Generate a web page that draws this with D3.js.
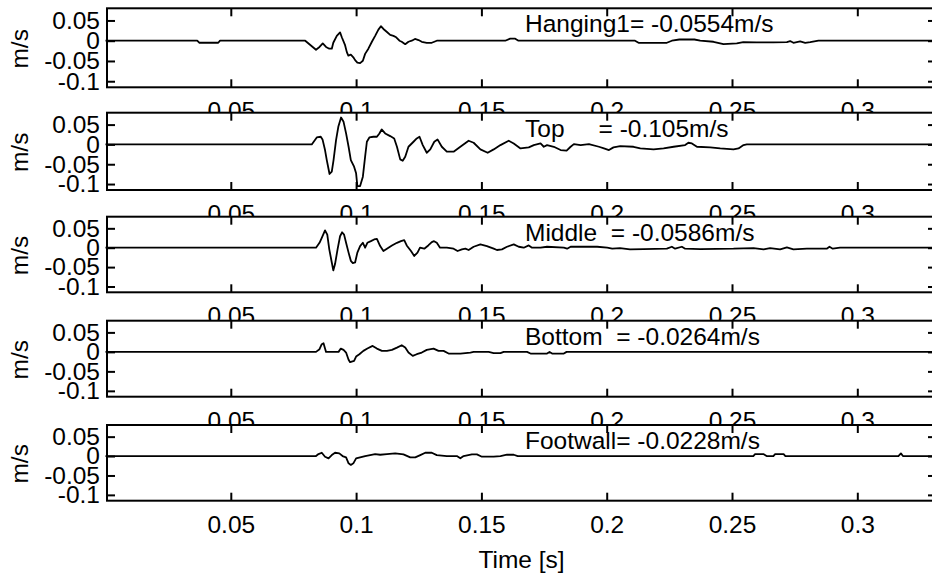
<!DOCTYPE html>
<html>
<head>
<meta charset="utf-8">
<script src="https://cdn.jsdelivr.net/npm/d3@7"></script>
<style>
  html, body { margin: 0; padding: 0; background: #fff; }
  svg { display: block; font-family: "Liberation Sans", Arial, sans-serif; }
</style>
</head>
<body>
<svg id="chart" width="932" height="573"></svg>
<script>
// ---- data -------------------------------------------------------------
const xTicks = [0.05, 0.1, 0.15, 0.2, 0.25, 0.3];
const yTicks = [0.05, 0, -0.05, -0.1];
const yTickLabels = ["0.05", "0", "-0.05", "-0.1"];
const sensorNames = ["Hanging1", "Top     ", "Middle  ", "Bottom  ", "Footwall"];

// particle velocity records, [time s, velocity m/s]
const hanging1 = [[0,0],[0.0366,0],[0.0374,-0.005],[0.045,-0.005],[0.0457,0],[0.0797,0],[0.0840,-0.0222],[0.0854,-0.0154],[0.0867,-0.0068],[0.0880,-0.0154],[0.0893,-0.0197],[0.0903,-0.0197],[0.0909,-0.0051],[0.0923,0.012],[0.0936,0.0205],[0.0943,0.0085],[0.0956,-0.0111],[0.0963,-0.0282],[0.0969,-0.0368],[0.0979,-0.0342],[0.0989,-0.041],[0.0996,-0.0479],[0.1005,-0.0539],[0.1016,-0.0554],[0.1027,-0.0496],[0.1036,-0.0325],[0.1049,-0.0197],[0.1063,-0.0026],[0.1076,0.012],[0.1089,0.0274],[0.1099,0.0359],[0.1109,0.029],[0.1122,0.0222],[0.1136,0.0145],[0.1149,0.012],[0.116,0.0085],[0.1173,0],[0.1182,-0.0026],[0.1196,-0.0085],[0.1209,-0.0026],[0.1222,0],[0.1235,0.0043],[0.1249,0.0017],[0.1262,-0.0026],[0.1282,-0.0051],[0.1302,-0.0051],[0.1322,0],[0.1595,0],[0.1615,0.0051],[0.1635,0.0051],[0.1648,0],[0.2113,0],[0.2127,-0.0051],[0.224,-0.0051],[0.226,0],[0.229,0.003],[0.235,0.003],[0.2373,0],[0.2426,-0.0026],[0.2466,-0.0085],[0.2519,-0.0068],[0.2545,-0.0034],[0.2599,-0.0043],[0.2665,-0.0043],[0.2719,-0.0034],[0.2732,-0.0008],[0.2745,-0.0051],[0.2772,-0.0017],[0.2792,-0.0051],[0.2812,-0.0034],[0.2845,0],[0.331,0]];

const top_ = [[0,0],[0.0823,0],[0.0843,0.0176],[0.0859,0.0193],[0.0866,0.0126],[0.0876,-0.0142],[0.0883,-0.0394],[0.0894,-0.0746],[0.0903,-0.0687],[0.0910,-0.0394],[0.0920,0.0109],[0.0929,0.0444],[0.0940,0.0679],[0.0950,0.057],[0.096,0.0277],[0.097,-0.0059],[0.0979,-0.0394],[0.0992,-0.0561],[0.1000,-0.0729],[0.1005,-0.105],[0.1016,-0.105],[0.1027,-0.0813],[0.1036,-0.031],[0.1043,0.0067],[0.1053,0.0176],[0.1069,0.0193],[0.1083,0.0193],[0.1093,0.0277],[0.1102,0.0377],[0.1116,0.0277],[0.1136,0.021],[0.1152,0.0151],[0.1163,-0.0059],[0.1176,-0.0377],[0.1186,-0.0411],[0.1196,-0.031],[0.1209,-0.0059],[0.1229,0.0067],[0.1242,0.0151],[0.1253,0.0193],[0.1266,-0.0017],[0.1282,-0.021],[0.1296,-0.0126],[0.1312,0.0067],[0.1325,0.0126],[0.1342,-0.0059],[0.1362,-0.0184],[0.1389,-0.0184],[0.1416,-0.0059],[0.1449,0.0092],[0.1469,0.0042],[0.1496,-0.0126],[0.1525,-0.021],[0.1549,-0.0126],[0.1576,-0.0017],[0.1609,0.0092],[0.1629,0.0025],[0.1656,-0.0101],[0.1689,-0.0075],[0.1709,-0.0017],[0.1736,0.0025],[0.1749,-0.0059],[0.1762,-0.0017],[0.1789,-0.0059],[0.1816,-0.0142],[0.184,-0.0159],[0.1856,-0.0059],[0.1869,0.0008],[0.1896,-0.0017],[0.1929,0.0008],[0.1969,-0.0059],[0.1989,-0.0101],[0.2009,-0.0142],[0.2027,-0.0075],[0.2054,-0.0042],[0.2107,-0.0059],[0.2134,-0.0101],[0.2187,-0.0126],[0.2227,-0.0101],[0.2267,-0.0059],[0.2313,-0.0017],[0.2326,0.0042],[0.234,0.0025],[0.236,-0.0059],[0.2413,-0.0075],[0.2453,-0.0101],[0.2506,-0.0126],[0.2526,-0.0101],[0.2546,-0.0017],[0.2559,0],[0.331,0]];

const middle = [[0,0],[0.0840,0],[0.0854,0.0127],[0.0863,0.0254],[0.0876,0.0448],[0.0885,0.0338],[0.0893,-0.0042],[0.0903,-0.0381],[0.0909,-0.0586],[0.0916,-0.0423],[0.0926,-0.0042],[0.0936,0.0296],[0.0944,0.0398],[0.0952,0.0338],[0.096,0.0127],[0.097,-0.0127],[0.0979,-0.0338],[0.0987,-0.0398],[0.0996,-0.0381],[0.1005,-0.0127],[0.1016,0.0042],[0.1027,0.0127],[0.1036,0],[0.1045,0.0127],[0.1059,0.0169],[0.1072,0.0212],[0.1083,0.0228],[0.1096,0.0042],[0.1109,-0.0085],[0.1123,-0.0025],[0.1143,0.0059],[0.1163,0.0127],[0.1179,0.0169],[0.1192,0.0195],[0.1202,0.0059],[0.1219,-0.0085],[0.1232,-0.0212],[0.1245,-0.0127],[0.1255,0],[0.1272,-0.0025],[0.1288,0.0059],[0.1302,0.0144],[0.1311,0.0169],[0.1322,0.0127],[0.1335,0],[0.1362,0],[0.1389,-0.0025],[0.1405,-0.0085],[0.1422,-0.0042],[0.1436,-0.0025],[0.1449,-0.0059],[0.1469,0.0025],[0.1496,0.0085],[0.1522,0.0042],[0.1549,-0.0025],[0.1562,-0.0059],[0.1582,-0.0042],[0.1602,0.0025],[0.1629,0.0085],[0.1649,0.0025],[0.1669,0],[0.1689,0.0059],[0.1702,0],[0.1736,0],[0.1762,0.0025],[0.1829,0],[0.1842,-0.0025],[0.1856,0.0025],[0.1962,0.0025],[0.2002,0],[0.2022,-0.0025],[0.2053,-0.0008],[0.2093,-0.0042],[0.2147,-0.0034],[0.2240,-0.0025],[0.226,0.0025],[0.2273,-0.0025],[0.23,0.0025],[0.2313,-0.0025],[0.2373,-0.0034],[0.2506,-0.0025],[0.2586,-0.0008],[0.2626,-0.0042],[0.2652,-0.0008],[0.2692,-0.0042],[0.2719,0.0008],[0.2745,-0.0042],[0.2799,-0.0025],[0.2878,-0.0025],[0.2889,0.0025],[0.2902,-0.0025],[0.2931,0],[0.331,0]];

const bottom = [[0,0],[0.0840,0],[0.0854,0.0068],[0.0863,0.0196],[0.087,0.0221],[0.0876,0.0085],[0.0880,0],[0.093,0],[0.0939,0.0085],[0.095,0.0051],[0.096,-0.0017],[0.097,-0.0204],[0.0976,-0.0264],[0.0992,-0.023],[0.1000,-0.0119],[0.1013,-0.006],[0.1029,0.0026],[0.1045,0.0085],[0.1066,0.0153],[0.1083,0.0085],[0.1103,0.0026],[0.1123,0.0026],[0.1143,0.0051],[0.1163,0.011],[0.1182,0.017],[0.1196,0.011],[0.1209,-0.0017],[0.1226,-0.0102],[0.1242,-0.006],[0.1262,-0.0017],[0.1282,0.0051],[0.1309,0.0085],[0.1329,0.0026],[0.1349,0.0026],[0.1369,-0.0043],[0.1416,-0.0043],[0.1456,-0.0017],[0.1469,0],[0.1529,0],[0.1549,-0.0034],[0.1576,-0.0034],[0.1589,0],[0.1682,0],[0.1696,-0.0043],[0.1762,-0.0043],[0.1772,0],[0.1782,-0.0043],[0.1829,-0.0043],[0.184,0],[0.331,0]];

const footwall = [[0,0],[0.0840,0],[0.0850,0.0051],[0.0863,0.0085],[0.0876,-0.0017],[0.089,-0.0059],[0.0903,0.0025],[0.0916,0.0085],[0.0933,0.0068],[0.0946,0],[0.096,-0.0034],[0.097,-0.0187],[0.0979,-0.0228],[0.0989,-0.0187],[0.1000,-0.0059],[0.1016,-0.0034],[0.1036,0],[0.1056,0.0025],[0.1076,0.0051],[0.1096,0.0034],[0.1123,0.0051],[0.1156,0.0068],[0.1189,0.0042],[0.1216,-0.0034],[0.1236,-0.0034],[0.1256,0.0025],[0.1276,0.0085],[0.1302,0.0085],[0.1322,0.0025],[0.1362,0],[0.1402,0],[0.1416,-0.0059],[0.1429,0],[0.1462,0.0042],[0.1482,0.0042],[0.1502,-0.0017],[0.1549,-0.0017],[0.1576,0],[0.1602,0.0034],[0.1629,0.0034],[0.1645,0],[0.2585,0],[0.2592,0.0051],[0.2625,0.0051],[0.2638,0],[0.2665,0],[0.2672,0.0051],[0.2706,0.0051],[0.2713,0],[0.3164,0],[0.3174,0.0068],[0.3182,0],[0.331,0]];

const seriesList = [hanging1, top_, middle, bottom, footwall];

// ---- layout -----------------------------------------------------------
const svg = d3.select("#chart");
const FONT = "24.5px";
const left = 107, right = 936;
const panelBoxes = [[8.3, 87.3], [112.7, 190], [216.7, 292.3], [320.7, 396.7], [425, 500.7]];

const x = d3.scaleLinear().domain([0.0006, 0.3314]).range([left, right]);

const line = d3.line();

seriesList.forEach((series, i) => {
  const [y0, y1] = panelBoxes[i];
  const y = d3.scaleLinear().domain([-0.115, 0.08]).range([y1, y0]);
  const g = svg.append("g");

  // white axes background hides the tick labels of the panel above
  g.append("rect").attr("x", left).attr("y", y0)
    .attr("width", right - left).attr("height", y1 - y0)
    .attr("fill", "#fff");

  // velocity trace
  g.append("path")
    .datum(series)
    .attr("d", line.x(d => x(d[0])).y(d => y(d[1])))
    .attr("fill", "none").attr("stroke", "#000")
    .attr("stroke-width", 1.8).attr("stroke-linejoin", "round");

  // axes: ticks point inward on all four sides
  const axB = g.append("g").attr("transform", `translate(0,${y1})`)
    .call(d3.axisBottom(x).tickValues(xTicks).tickFormat(d3.format("")).tickSize(-8).tickSizeOuter(0).tickPadding(14.5));
  const axT = g.append("g").attr("transform", `translate(0,${y0})`)
    .call(d3.axisTop(x).tickValues(xTicks).tickFormat("").tickSize(-8).tickSizeOuter(0));
  const axL = g.append("g").attr("transform", `translate(${left},0)`)
    .call(d3.axisLeft(y).tickValues(yTicks).tickFormat((d, k) => yTickLabels[k]).tickSize(-8).tickSizeOuter(0).tickPadding(7));
  const axR = g.append("g").attr("transform", `translate(${right},0)`)
    .call(d3.axisRight(y).tickValues(yTicks).tickFormat("").tickSize(-8).tickSizeOuter(0));

  [axB, axT, axL, axR].forEach(a => {
    a.select(".domain").remove();
    a.selectAll("line").attr("stroke", "#000").attr("stroke-width", 2);
    a.selectAll("text").attr("fill", "#000").style("font-size", FONT)
      .style("font-family", '"Liberation Sans", Arial, sans-serif');
  });

  // axes box
  g.append("rect").attr("x", left).attr("y", y0)
    .attr("width", right - left).attr("height", y1 - y0)
    .attr("fill", "none").attr("stroke", "#000").attr("stroke-width", 2);

  // y label
  g.append("text")
    .attr("transform", `translate(28,${(y0 + y1) / 2 + 1}) rotate(-90)`)
    .attr("text-anchor", "middle").style("font-size", FONT)
    .text("m/s");

  // peak value annotation
  const peak = d3.min(series, d => d[1]);
  g.append("text")
    .attr("x", 525).attr("y", y0 + 24)
    .style("font-size", FONT).style("white-space", "pre")
    .text(`${sensorNames[i]}= ${peak}m/s`);
});

svg.append("text")
  .attr("x", (left + right) / 2).attr("y", 567.5)
  .attr("text-anchor", "middle").style("font-size", FONT)
  .text("Time [s]");
</script>
</body>
</html>
